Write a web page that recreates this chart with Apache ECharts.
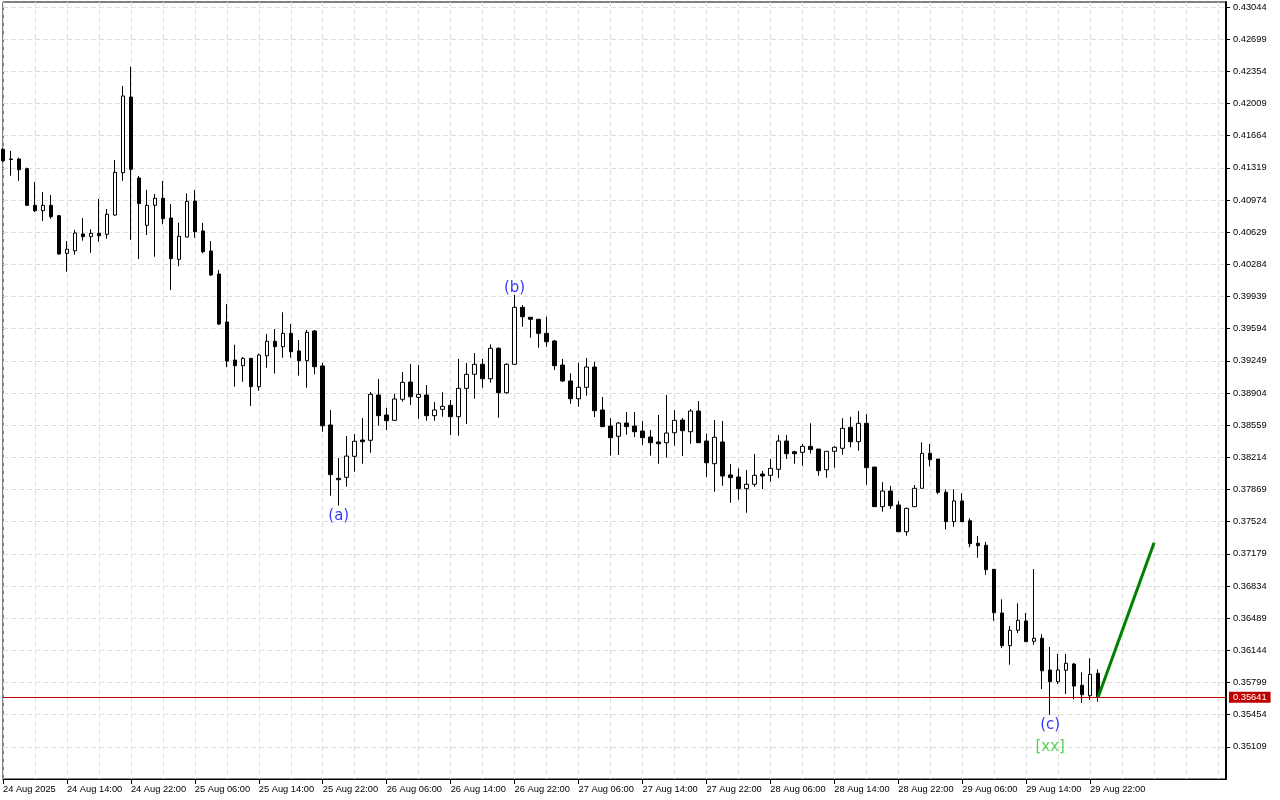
<!DOCTYPE html>
<html><head><meta charset="utf-8">
<script src="https://cdn.jsdelivr.net/npm/echarts@6/dist/echarts.min.js"></script>
<style>html,body{margin:0;padding:0;background:#fff}#c{width:1280px;height:800px}</style>
</head><body><div id="c"></div>
<script>
// Hourly candles, 24 Aug 2025 06:00 .. 29 Aug 2025 23:00
const opens = [
0.41518,0.41414,0.41414,0.41310,0.40917,0.40860,0.40917,0.40806,0.40403,0.40430,
0.40610,0.40581,0.40617,0.40606,0.40813,0.41267,0.42079,0.41210,0.40703,0.40917,
0.40992,0.40781,0.40338,0.40577,0.40963,0.40642,0.40427,0.40180,0.39666,0.39258,
0.39197,0.39276,0.38972,0.39304,0.39459,0.39401,0.39544,0.39355,0.39251,0.39569,
0.39194,0.38561,0.37989,0.38000,0.38225,0.38400,0.38397,0.38883,0.38668,0.38611,
0.38837,0.39022,0.38858,0.38883,0.38661,0.38729,0.38772,0.38650,0.38954,0.39105,
0.39212,0.39057,0.39384,0.38907,0.39212,0.39823,0.39716,0.39695,0.39544,0.39462,
0.39204,0.39033,0.38843,0.38965,0.39183,0.38722,0.38550,0.38440,0.38582,0.38550,
0.38496,0.38432,0.38379,0.38371,0.38478,0.38614,0.38489,0.38711,0.38389,0.38146,
0.38379,0.38025,0.38003,0.37878,0.37925,0.38035,0.38021,0.38086,0.38389,0.38274,
0.38268,0.38332,0.38303,0.38081,0.38279,0.38311,0.38536,0.38382,0.38579,0.38110,
0.37685,0.37853,0.37703,0.37416,0.37685,0.37882,0.38257,0.38196,0.37839,0.37524,
0.37746,0.37534,0.37292,0.37271,0.37013,0.36544,0.36194,0.36359,0.36459,0.36241,
0.36273,0.35933,0.35807,0.35930,0.35997,0.35769,0.35657,0.35898];
const closes = [
0.41396,0.41408,0.41299,0.40917,0.40860,0.40917,0.40795,0.40395,0.40446,0.40620,
0.40581,0.40617,0.40591,0.40821,0.41271,0.42090,0.41303,0.40937,0.40917,0.40993,
0.40774,0.40345,0.40585,0.40960,0.40634,0.40420,0.40170,0.39644,0.39247,0.39197,
0.39276,0.38972,0.39312,0.39459,0.39401,0.39544,0.39347,0.39251,0.39555,0.39186,
0.38553,0.38028,0.37974,0.38228,0.38386,0.38382,0.38890,0.38661,0.38607,0.38840,
0.39019,0.38864,0.38890,0.38661,0.38722,0.38761,0.38650,0.38954,0.39105,0.39212,
0.39057,0.39384,0.38907,0.39212,0.39823,0.39722,0.39695,0.39544,0.39454,0.39197,
0.39033,0.38843,0.38965,0.39183,0.38714,0.38543,0.38425,0.38582,0.38543,0.38489,
0.38425,0.38371,0.38360,0.38475,0.38611,0.38500,0.38711,0.38371,0.38156,0.38429,
0.38014,0.37996,0.37878,0.37925,0.38021,0.38014,0.38096,0.38389,0.38253,0.38253,
0.38332,0.38298,0.38071,0.38279,0.38322,0.38525,0.38382,0.38579,0.38103,0.37685,
0.37853,0.37695,0.37416,0.37667,0.37882,0.38257,0.38189,0.37839,0.37524,0.37746,
0.37524,0.37288,0.37266,0.37009,0.36548,0.36194,0.36359,0.36466,0.36237,0.36273,
0.35925,0.35807,0.35933,0.36005,0.35761,0.35668,0.35887,0.35641];
const highs = [
0.41532,0.41500,0.41428,0.41321,0.41167,0.41060,0.41028,0.40813,0.40535,0.40653,
0.40781,0.40660,0.40985,0.40878,0.41403,0.42197,0.42404,0.41232,0.41082,0.41039,
0.41178,0.40931,0.40731,0.41046,0.41082,0.40728,0.40535,0.40223,0.39859,0.39422,
0.39290,0.39276,0.39326,0.39537,0.39591,0.39770,0.39644,0.39473,0.39580,0.39580,
0.39229,0.38722,0.38207,0.38443,0.38464,0.38636,0.38915,0.39054,0.38746,0.38897,
0.39129,0.39215,0.39204,0.38990,0.38808,0.38912,0.38829,0.39269,0.39226,0.39333,
0.39269,0.39426,0.39394,0.39223,0.39955,0.39848,0.39716,0.39695,0.39722,0.39473,
0.39269,0.39115,0.39229,0.39279,0.39240,0.38861,0.38636,0.38593,0.38700,0.38700,
0.38604,0.38507,0.38668,0.38883,0.38722,0.38636,0.38732,0.38818,0.38468,0.38614,
0.38604,0.38143,0.38096,0.38078,0.38250,0.38067,0.38196,0.38454,0.38454,0.38285,
0.38357,0.38579,0.38303,0.38279,0.38332,0.38633,0.38650,0.38711,0.38676,0.38110,
0.37949,0.37907,0.37746,0.37674,0.37917,0.38375,0.38357,0.38196,0.37871,0.37871,
0.37828,0.37560,0.37370,0.37306,0.37013,0.36691,0.36405,0.36648,0.36544,0.37016,
0.36316,0.36180,0.36105,0.36105,0.36008,0.35908,0.36058,0.35940];
const lows = [
0.41382,0.41235,0.41181,0.40910,0.40845,0.40749,0.40774,0.40388,0.40205,0.40388,
0.40538,0.40409,0.40527,0.40559,0.40806,0.41181,0.40545,0.40341,0.40599,0.40366,
0.40714,0.40009,0.40266,0.40574,0.40570,0.40403,0.40159,0.39633,0.39180,0.38972,
0.39025,0.38765,0.38929,0.39175,0.39113,0.39283,0.39283,0.39090,0.38961,0.39105,
0.38489,0.37803,0.37695,0.37899,0.38060,0.38146,0.38264,0.38553,0.38507,0.38611,
0.38811,0.38775,0.38628,0.38607,0.38607,0.38650,0.38454,0.38446,0.38572,0.38843,
0.38961,0.39015,0.38639,0.38897,0.39208,0.39615,0.39497,0.39390,0.39401,0.39151,
0.39025,0.38789,0.38757,0.38875,0.38647,0.38543,0.38232,0.38239,0.38457,0.38432,
0.38346,0.38232,0.38146,0.38210,0.38339,0.38228,0.38360,0.38371,0.38003,0.37845,
0.37910,0.37727,0.37760,0.37620,0.37899,0.37874,0.37953,0.37992,0.38196,0.38146,
0.38124,0.38255,0.38017,0.37996,0.38103,0.38242,0.38322,0.38285,0.37921,0.37685,
0.37631,0.37660,0.37416,0.37373,0.37685,0.37882,0.38118,0.37818,0.37440,0.37470,
0.37524,0.37249,0.37138,0.36955,0.36462,0.36169,0.35990,0.36330,0.36237,0.36204,
0.35729,0.35450,0.35783,0.35676,0.35619,0.35582,0.35614,0.35593];

const xTickLabels = ['24 Aug 2025','24 Aug 14:00','24 Aug 22:00','25 Aug 06:00','25 Aug 14:00','25 Aug 22:00',
  '26 Aug 06:00','26 Aug 14:00','26 Aug 22:00','27 Aug 06:00','27 Aug 14:00','27 Aug 22:00',
  '28 Aug 06:00','28 Aug 14:00','28 Aug 22:00','29 Aug 06:00','29 Aug 14:00','29 Aug 22:00'];
const yTickLabels = ['0.43044','0.42699','0.42354','0.42009','0.41664','0.41319','0.40974','0.40629',
  '0.40284','0.39939','0.39594','0.39249','0.38904','0.38559','0.38214','0.37869','0.37524','0.37179',
  '0.36834','0.36489','0.36144','0.35799','0.35454','0.35109'];
const lastPrice = 0.35641;
const projectionIdx = [137, 144];
const projectionVal = [0.35641, 0.37298];
const waveNames = ['(a)', '(b)', '(c)'];
const waveIdx = [42, 64, 131];
const waveSide = ['below', 'above', 'below'];
const outerLabel = '[xx]';
const outerIdx = 131;

const TOTAL_SLOTS = 154; // chart shift space to the right
const start = Date.UTC(2025, 7, 24, 6);
const categories = [];
for (let i = 0; i < TOTAL_SLOTS; i++) {
  const d = new Date(start + i * 3600000);
  categories.push(d.toISOString().slice(0, 16));
}
const ohlc = opens.map((o, i) => [o, closes[i], lows[i], highs[i]]);
const yTickValues = yTickLabels.map(Number);
const LAST_LABEL_IDX = (xTickLabels.length - 1) * 8;
const isTickIdx = i => i % 8 === 0 && i <= LAST_LABEL_IDX;

const FONT = 'Liberation Sans';
const WAVE_BLUE = '#0000ff';
const waveData = waveNames.map((t, j) => {
  const i = waveIdx[j];
  const below = waveSide[j] === 'below';
  return {
    value: [i, below ? lows[i] : highs[i]],
    label: { show: true, position: below ? 'bottom' : 'top', distance: below ? 2.5 : 1,
      offset: below ? [0, 0] : [0, 2], formatter: t,
      color: WAVE_BLUE, fontFamily: 'DejaVu Sans', fontSize: 15 }
  };
});
waveData.push({
  value: [outerIdx, lows[outerIdx]],
  label: { show: true, position: 'bottom', distance: 24, formatter: outerLabel,
    color: '#2ecc2e', fontFamily: 'DejaVu Sans', fontSize: 15 }
});

const chart = echarts.init(document.getElementById('c'), null, { renderer: 'canvas' });
chart.setOption({
  animation: false,
  backgroundColor: '#ffffff',
  grid: { left: 2, right: 54, top: 2, bottom: 21, show: true, borderColor: '#000', borderWidth: 1, backgroundColor: '#fff' },
  xAxis: {
    type: 'category', data: categories, boundaryGap: false,
    axisLine: { lineStyle: { color: '#000', width: 1 } },
    axisTick: { show: true, interval: (i) => isTickIdx(i), length: 5, lineStyle: { color: '#000' } },
    axisLabel: { interval: (i) => isTickIdx(i), align: 'left', margin: 6, color: '#000', fontFamily: FONT, fontSize: 9.3,
      formatter: (v, i) => isTickIdx(i) ? xTickLabels[i / 8] : '' },
    splitLine: { show: true, interval: 3, lineStyle: { color: '#dedede', type: [5, 3], width: 1 } }
  },
  yAxis: {
    type: 'value', position: 'right', min: 0.34764, max: 0.43098,
    axisLine: { show: true, lineStyle: { color: '#000', width: 2 } },
    axisTick: { show: true, length: 4, customValues: yTickValues, lineStyle: { color: '#000' } },
    axisLabel: { customValues: yTickValues, margin: 7, color: '#000', fontFamily: FONT, fontSize: 9.3,
      formatter: v => v.toFixed(5) },
    splitLine: { show: true, lineStyle: { color: '#dedede', type: [5, 3], width: 1 } }
  },
  series: [
    {
      type: 'candlestick', data: ohlc, barWidth: 4,
      itemStyle: { color: '#ffffff', color0: '#000000', borderColor: '#000000', borderColor0: '#000000', borderWidth: 1 }
    },
    {
      type: 'line', data: projectionIdx.map((x, j) => [x, projectionVal[j]]),
      showSymbol: false, lineStyle: { color: '#008000', width: 3 }, z: 5,
      markLine: {
        symbol: 'none', silent: true, precision: 5,
        data: [{ yAxis: lastPrice }],
        lineStyle: { color: '#c00000', width: 1, type: 'solid' },
        label: { show: true, position: 'end', distance: 3, formatter: lastPrice.toFixed(5),
          backgroundColor: '#c00000', color: '#fff', padding: [1, 4, 1, 4], fontFamily: FONT, fontSize: 9.3 }
      }
    },
    {
      type: 'scatter', data: waveData, symbolSize: 1, itemStyle: { color: 'rgba(0,0,0,0)' }, z: 6
    }
  ]
});
</script>
</body></html>
